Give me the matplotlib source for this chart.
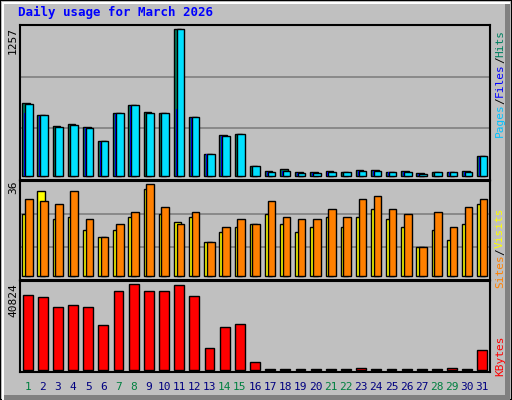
import matplotlib
matplotlib.use("Agg")
import matplotlib.pyplot as plt
from matplotlib.patches import Rectangle
import numpy as np

days = list(range(1, 32))
hits = [626,523,429,446,421,301,540,609,549,540,1257,506,190,353,361,88,45,63,37,37,45,37,54,54,37,45,23,37,37,45,176]
files = [540,515,420,430,410,295,530,600,540,530,574,500,185,345,355,85,35,40,26,26,35,34,40,40,34,35,18,34,34,35,165]
pages = [617,523,421,438,412,301,540,609,540,540,1257,506,190,344,361,88,37,45,28,28,37,37,45,45,37,37,20,37,37,37,168]
sites = [24.3,33.3,22.4,23.1,18.1,15.3,18.1,23.1,34,24.3,21.2,23.1,13.4,17.3,19.2,20.4,24.3,20.4,17.3,19.2,23.1,19.2,23.1,26.3,22.4,19.2,11.4,18.1,14.2,20.4,28.2]
visits = [30.2,29.4,28.2,33.3,22.4,15.3,20.4,25.1,36,27,20.4,25.1,13.4,19.2,22.4,20.4,29.4,23.1,22.4,22.4,26.3,23.1,30.2,31.3,26.3,24.3,11.4,25.1,19.2,27,30.2]
kbytes = [35260,34330,29690,30620,29690,21340,37110,40824,37110,37110,40360,34790,10670,20410,21800,3710,500,500,500,500,500,500,1000,500,500,500,500,500,900,500,9740]
weekend = [1,7,8,14,15,21,22,28,29]

W, H = 512, 400
fig = plt.figure(figsize=(W/100, H/100), dpi=100)
fig.patch.set_facecolor("#c0c0c0")
fig.add_artist(Rectangle((0, 0), 1, 1, transform=fig.transFigure, fill=False, ec="black", lw=1.5))
fig.add_artist(Rectangle((2/W, 0), 1-4/W, 5/H, transform=fig.transFigure, fc="#808080", ec="none"))
fig.add_artist(Rectangle((1-7/W, 0), 5/W, 1-2/H, transform=fig.transFigure, fc="#808080", ec="none"))
fig.add_artist(Rectangle((2/W, 1-4/H), 1-4/W, 2/H, transform=fig.transFigure, fc="white", ec="none"))
fig.add_artist(Rectangle((2/W, 0), 2/W, 1-2/H, transform=fig.transFigure, fc="white", ec="none"))

mono = "DejaVu Sans Mono"
fig.text(18/W, 1-12/H, "Daily usage for March 2026", color="#0000ff", fontsize=9,
         fontweight="bold", family=mono, va="center")

def mkax(top, bottom):
    ax = fig.add_axes([20/W, 1-bottom/H, 470/W, (bottom-top)/H])
    ax.set_facecolor("#c0c0c0")
    for s in ax.spines.values():
        s.set_color("black"); s.set_linewidth(1.5)
    ax.set_xlim(0.5, 31.5)
    ax.set_xticks([]); ax.set_yticks([])
    return ax

def ylabel(txt, ytop):
    fig.text(13/W, 1-ytop/H, txt, rotation=90, ha="center", va="top", fontsize=8, family=mono)

x = np.array(days)
ax1 = mkax(25, 180)
m1 = max(hits)
ax1.set_ylim(-m1*0.027, m1*1.03)
for f in (1/3, 2/3):
    ax1.axhline(m1*1.057*f - m1*0.027, color="#808080", lw=1.2, zorder=0)
ax1.bar(x-0.1, hits, width=0.5, color="#008060", ec="black", lw=1, zorder=2)
ax1.bar(x-0.12, files, width=0.2, color="#0000ff", ec="none", zorder=3)
ax1.bar(x+0.08, pages, width=0.5, color="#00e0ff", ec="black", lw=1, zorder=4)
ylabel("1257", 27)

ax2 = mkax(181, 280)
m2 = 36
ax2.set_ylim(-m2*0.04, m2*1.03)
for f in (1/3, 2/3):
    ax2.axhline(m2*1.07*f - m2*0.04, color="#808080", lw=1.2, zorder=0)
ax2.bar(x-0.1, sites, width=0.5, color="#ffff00", ec="black", lw=1, zorder=2)
ax2.bar(x+0.08, visits, width=0.5, color="#ff8000", ec="black", lw=1, zorder=3)
ylabel("36", 181)

ax3 = mkax(281, 372)
m3 = max(kbytes)
ax3.set_ylim(-m3*0.02, m3*1.03)
ax3.bar(x, kbytes, width=0.65, color="#ff0000", ec="black", lw=1, zorder=2)
ylabel("40824", 283)
for d in days:
    ax3.text(d, -0.17, str(d), transform=ax3.get_xaxis_transform(), ha="center", va="center",
             fontsize=8, family=mono, color="#008040" if d in weekend else "#000080")

CW = 0.602 * 8 * 100 / 72
def rlabel(ybottom, parts):
    y = ybottom
    for txt, col in parts:
        fig.text(500/W, 1-y/H, txt, rotation=90, color=col, fontsize=8, family=mono,
                 ha="center", va="bottom")
        y -= len(txt) * CW
rlabel(137, [("Pages", "#00c0ff"), ("/", "black"), ("Files", "#0000ff"), ("/", "black"), ("Hits", "#008060")])
rlabel(288, [("Sites", "#ff8000"), ("/", "black"), ("Visits", "#ffff00")])
rlabel(376, [("KBytes", "#ff0000")])

fig.savefig("out.png", dpi=100, facecolor=fig.get_facecolor())
